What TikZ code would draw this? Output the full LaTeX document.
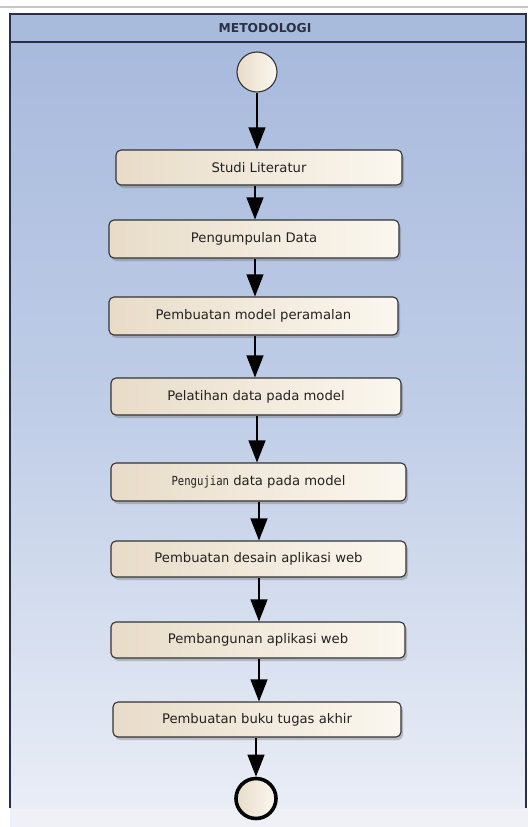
\documentclass[tikz,border=0pt]{standalone}
\usepackage{fontspec}
\setmainfont{DejaVu Sans}
\newfontfamily\monofnt[FakeStretch=0.85]{DejaVu Sans Mono}
\usetikzlibrary{arrows.meta,shadows,calc}
\definecolor{hdrfill}{HTML}{A9BBDC}
\definecolor{bodytop}{HTML}{A8BADD}
\definecolor{bodymid}{HTML}{C0CEE7}
\definecolor{bodybot}{HTML}{E9EDF6}
\definecolor{framecol}{HTML}{2A3045}
\definecolor{boxL}{HTML}{E8DCC8}
\definecolor{boxR}{HTML}{FBF7EF}
\definecolor{boxline}{HTML}{333333}
\definecolor{txt}{HTML}{222222}
\definecolor{bottomarea}{HTML}{F0F1F6}
\begin{document}
\begin{tikzpicture}[x=1pt,y=-1pt,
  actbox/.style={draw=boxline, line width=1.1pt, rounded corners=5pt,
    left color=boxL, right color=boxR, text=txt,
    font=\fontsize{13.2}{15}\selectfont,
    drop shadow={shadow xshift=2pt, shadow yshift=-3pt, opacity=0.35, fill=black!60},
    inner sep=0pt},
  startnode/.style={circle, draw=boxline, line width=1.1pt, left color=boxL, right color=boxR,
    minimum size=40pt, inner sep=0pt},
  endnode/.style={circle, draw=black, line width=3.6pt, left color=boxL, right color=boxR,
    minimum size=40pt, inner sep=0pt},
  flow/.style={draw=black, line width=1.1pt, -{Triangle[length=22pt,width=17pt]}}
]
\useasboundingbox (0,0) rectangle (528,827);
\fill[white] (0,0) rectangle (528,827);
% bottom light area
\fill[bottomarea] (10,808) rectangle (528,827);
% top gray line
\draw[line width=2pt, black!22] (0,7) -- (528,7);
% body gradient
\shade[top color=bodytop, bottom color=bodymid] (10,42) rectangle (526,420);
\shade[top color=bodymid, bottom color=bodybot] (10,420) rectangle (526,808);
% header
\fill[hdrfill] (10,14) rectangle (526,42);
\draw[framecol, line width=1.4pt] (10,808) -- (10,14) -- (526,14) -- (526,808);
\draw[framecol, line width=1.4pt] (10,42) -- (526,42);
\node[font=\bfseries\fontsize{12.3}{14}\selectfont, text=framecol] (hdr) at (265,28) {METODOLOGI};

% nodes
\node[startnode] (start) at (257,72) {};
\node[actbox, minimum width=286pt, minimum height=35pt] (b1) at (259,167.5) {Studi Literatur};
\node[actbox, minimum width=290pt, minimum height=38pt] (b2) at (254,239) {Pengumpulan Data};
\node[actbox, minimum width=289pt, minimum height=38pt] (b3) at (253.5,316) {Pembuatan model peramalan};
\node[actbox, minimum width=290pt, minimum height=37pt] (b4) at (256,396.5) {Pelatihan data pada model};
\node[actbox, minimum width=295pt, minimum height=38pt] (b5) at (258.5,482) {{\monofnt\fontsize{12.5}{15}\selectfont Pengujian} data pada model};
\node[actbox, minimum width=295pt, minimum height=36pt] (b6) at (258.5,559) {Pembuatan desain aplikasi web};
\node[actbox, minimum width=294pt, minimum height=36pt] (b7) at (258,640) {Pembangunan aplikasi web};
\node[actbox, minimum width=288pt, minimum height=35pt] (b8) at (257,719.5) {Pembuatan buku tugas akhir};
\node[endnode] (end) at (256,798.5) {};

% connectors
\draw[flow] (start.south) -- (start.south |- b1.north);
\draw[flow] ([xshift=-4pt]b1.south) -- ([xshift=-4pt]b1.south |- b2.north);
\draw[flow] ([xshift=1pt]b2.south) -- ([xshift=1pt]b2.south |- b3.north);
\draw[flow] ([xshift=1.5pt]b3.south) -- ([xshift=1.5pt]b3.south |- b4.north);
\draw[flow] ([xshift=1pt]b4.south) -- ([xshift=1pt]b4.south |- b5.north);
\draw[flow] ([xshift=0.5pt]b5.south) -- ([xshift=0.5pt]b5.south |- b6.north);
\draw[flow] ([xshift=0.5pt]b6.south) -- ([xshift=0.5pt]b6.south |- b7.north);
\draw[flow] ([xshift=1pt]b7.south) -- ([xshift=1pt]b7.south |- b8.north);
\draw[flow] ([xshift=-1pt]b8.south) -- ([xshift=-1pt]b8.south |- end.north);
\end{tikzpicture}
\end{document}
